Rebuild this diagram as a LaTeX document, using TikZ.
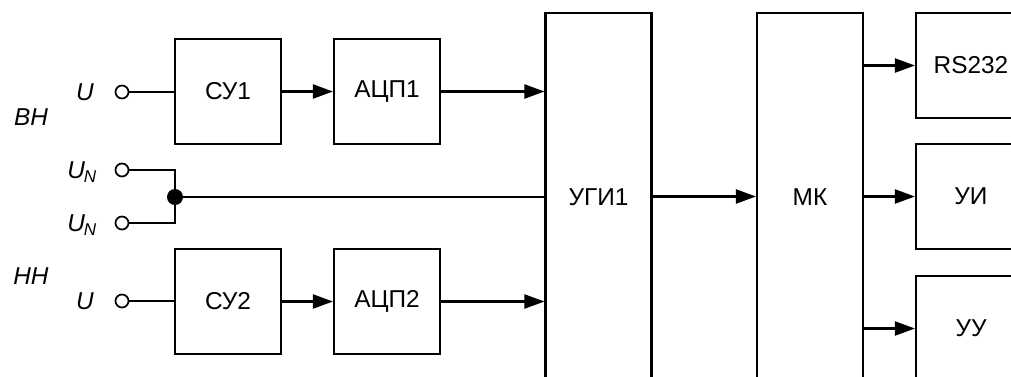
\documentclass[tikz,border=0pt]{standalone}
\usepackage{fontspec}
\setmainfont{Liberation Sans}
\usetikzlibrary{arrows.meta}
\begin{document}
\begin{tikzpicture}[x=1bp,y=-1bp,
  line width=2.1bp,
  font=\fontsize{24.5}{28}\selectfont,
  blk/.style={draw, inner sep=0pt, minimum width=106bp, minimum height=105bp},
  tall/.style={draw, inner sep=0pt, minimum width=106bp, minimum height=368bp},
  term/.style={draw, circle, inner sep=0pt, minimum size=13bp, line width=1.7bp},
  lbl/.style={font=\fontsize{24.5}{28}\selectfont\itshape, inner sep=0pt},
  arr/.style={-{Triangle[length=20bp,width=14bp]}},
  dot/.style={circle, fill=black, inner sep=0pt, minimum size=16bp}]
\useasboundingbox (0,0) rectangle (1011,376);
\clip (0,0) rectangle (1011,376);
% blocks
\node[blk] (su1) at (228,91.5) {СУ1};
\node[blk] (adc1) at (387,91.5) {АЦП1};
\node[blk] (su2) at (228,301.5) {СУ2};
\node[blk] (adc2) at (387,301.5) {АЦП2};
\node[tall] (ugi) at (598.5,197) {УГИ1};
\node[tall] (mk) at (810,197) {МК};
\node[blk, minimum width=110bp] (rs) at (971,65.5) {RS232};
\node[blk, minimum width=110bp] (ui) at (971,196.5) {УИ};
\node[blk, minimum width=110bp] (uu) at (971,328.5) {УУ};
% terminals
\node[term] (t1) at (122,92) {};
\node[term] (tn1) at (122,170) {};
\node[term] (tn2) at (122,223) {};
\node[term] (t2) at (122,301) {};
\node[dot] (j) at (175,197) {};
\coordinate (c1) at (175,170);
\coordinate (c2) at (175,223);
% labels
\node[lbl] (lu1) at (85,92) {U};
\node[lbl] (lbh) at (31,117) {BH};
\node[lbl] (lun1) at (82,172) {U\textsubscript{\kern-1pt N}};
\node[lbl] (lun2) at (82,225) {U\textsubscript{\kern-1pt N}};
\node[lbl] (lhh) at (31,276) {HH};
\node[lbl] (lu2) at (85,301) {U};
% connectors
\draw (t1.east) -- (su1.west |- t1.east);
\draw (t2.east) -- (su2.west |- t2.east);
\draw (tn1.east) -- (c1) -- (c2) -- (tn2.east);
\draw (j.center) -- (ugi.west |- j.center);
\draw[arr] (su1.east) -- (adc1.west);
\draw[arr] (su2.east) -- (adc2.west);
\draw[arr] (adc1.east) -- (ugi.west |- adc1.east);
\draw[arr] (adc2.east) -- (ugi.west |- adc2.east);
\draw[arr] (ugi.east |- ui.west) -- (mk.west |- ui.west);
\draw[arr] (mk.east |- rs.west) -- (rs.west);
\draw[arr] (mk.east |- ui.west) -- (ui.west);
\draw[arr] (mk.east |- uu.west) -- (uu.west);
\end{tikzpicture}
\end{document}
